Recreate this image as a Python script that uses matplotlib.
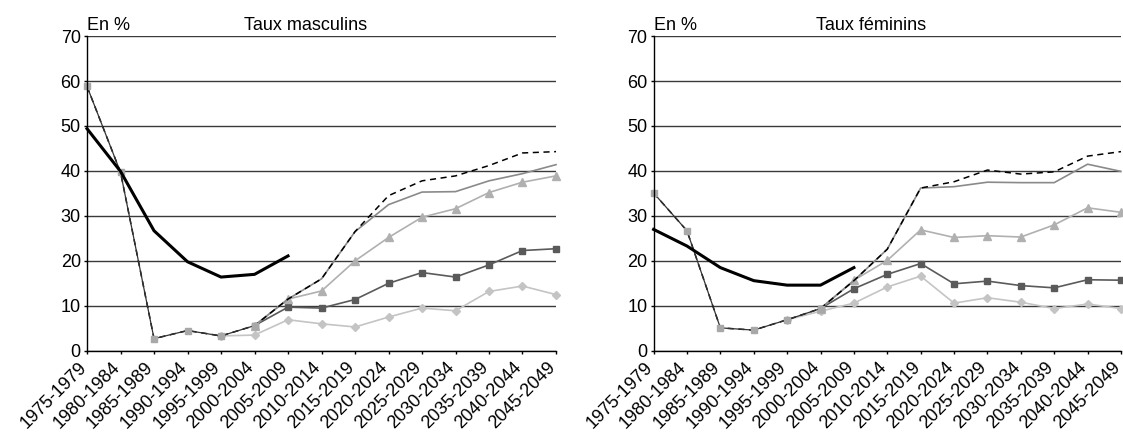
import numpy as np
import matplotlib
matplotlib.use("Agg")
import matplotlib.pyplot as plt
from matplotlib.transforms import ScaledTranslation

plt.rcParams["font.family"] = ["Liberation Sans", "DejaVu Sans"]

PERIODS = ["1975-1979", "1980-1984", "1985-1989", "1990-1994", "1995-1999",
           "2000-2004", "2005-2009", "2010-2014", "2015-2019", "2020-2024",
           "2025-2029", "2030-2034", "2035-2039", "2040-2044", "2045-2049"]

# ---- Taux masculins ----
M_OBS = [49.4, 39.9, 26.7, 19.8, 16.4, 17.0, 21.1]
M_HIST = [58.8, 39.7, 2.7, 4.5, 3.3, 5.6]
M_DASH = [58.8, 39.7, 2.7, 4.5, 3.3, 5.6, 11.5, 16.0, 26.5, 34.5, 37.8, 38.9, 41.2, 44.0, 44.3]
M_GRAY = [5.6, 11.5, 16.0, 26.5, 32.5, 35.3, 35.4, 37.8, 39.4, 41.4]      # from 2000
M_TRI = [5.6, 11.5, 13.3, 20.0, 25.2, 29.7, 31.6, 35.2, 37.5, 38.9]       # from 2000
M_SQ = [5.6, 9.7, 9.5, 11.4, 15.0, 17.4, 16.4, 19.1, 22.3, 22.7]          # from 2000
M_DIA = [3.3, 3.5, 6.9, 6.0, 5.3, 7.5, 9.5, 8.9, 13.2, 14.4, 12.5]        # from 1995

# ---- Taux féminins ----
F_OBS = [27.0, 23.3, 18.5, 15.6, 14.6, 14.6, 18.5]
F_HIST = [35.1, 26.7, 5.1, 4.6, 6.9, 9.4]
F_DASH = [35.1, 26.7, 5.1, 4.6, 6.9, 9.4, 15.6, 22.6, 36.2, 37.6, 40.2, 39.3, 39.8, 43.3, 44.3]
F_GRAY = [9.4, 15.6, 22.6, 36.2, 36.5, 37.5, 37.4, 37.4, 41.5, 39.9]
F_TRI = [9.4, 15.7, 20.1, 26.9, 25.2, 25.6, 25.3, 28.0, 31.8, 30.8]
F_SQ = [9.4, 13.8, 17.0, 19.4, 14.9, 15.5, 14.5, 14.0, 15.8, 15.7]
F_DIA = [6.9, 8.8, 10.6, 14.2, 16.6, 10.6, 11.8, 10.8, 9.4, 10.4, 9.4]

PANELS = [
    ("Taux masculins", M_OBS, M_HIST, M_DASH, M_GRAY, M_TRI, M_SQ, M_DIA),
    ("Taux féminins", F_OBS, F_HIST, F_DASH, F_GRAY, F_TRI, F_SQ, F_DIA),
]


def draw(ax, title, obs, hist, dash, gray, tri, sq, dia):
    x = np.arange(len(PERIODS))
    ax.set_xlim(0, len(PERIODS) - 1)
    ax.set_ylim(0, 70)
    ax.set_yticks(range(0, 71, 10))
    ax.yaxis.grid(True, color="#3a3a3a", lw=1.0)
    ax.set_axisbelow(True)
    for s in ("top", "right"):
        ax.spines[s].set_visible(False)
    for s in ("left", "bottom"):
        ax.spines[s].set_color("black")
        ax.spines[s].set_linewidth(1.0)

    n = len(PERIODS)
    ax.plot(x[n - len(dia):], dia, color="#c4c4c4", lw=1.2, marker="D", ms=4,
            mec="#c4c4c4", mfc="#c4c4c4", clip_on=False)
    ax.plot(x[n - len(sq):], sq, color="#5a5a5a", lw=1.2, marker="s", ms=4.6,
            mec="#5a5a5a", mfc="#5a5a5a", clip_on=False)
    ax.plot(x[n - len(tri):], tri, color="#b0b0b0", lw=1.2, marker="^", ms=5.5,
            mec="#b0b0b0", mfc="#b0b0b0", clip_on=False)
    ax.plot(x[n - len(gray):], gray, color="#8a8a8a", lw=1.2, clip_on=False)
    ax.plot(x, dash, color="black", lw=1.1, ls=(0, (4, 3)), clip_on=False)
    ax.plot(x[:len(hist)], hist, color="#333333", lw=0.9, marker="s", ms=5,
            mec="#a8a8a8", mfc="#a8a8a8", clip_on=False)
    ax.plot(x[:len(obs)], obs, color="black", lw=2.2, clip_on=False)

    ax.set_xticks(x)
    ax.set_xticklabels(PERIODS, rotation=45, ha="right", va="baseline",
                       rotation_mode="anchor", fontsize=13)
    shift = ScaledTranslation(-3.6 / 72, 0, ax.figure.dpi_scale_trans)
    for lab in ax.get_xticklabels():
        lab.set_transform(lab.get_transform() + shift)
    ax.tick_params(axis="x", direction="out", length=2.5, width=1, pad=10)
    ax.tick_params(axis="y", direction="out", length=2.5, width=1, labelsize=13, pad=2)
    ax.text(0.0, 1.019, "En %", transform=ax.transAxes, fontsize=13,
            ha="left", va="baseline")
    ax.text(0.465, 1.019, title, transform=ax.transAxes, fontsize=13,
            ha="center", va="baseline")


fig = plt.figure(figsize=(11.23, 4.32), dpi=100)
ax1 = fig.add_axes([0.0775, 0.188, 0.4176, 0.7285])
ax2 = fig.add_axes([0.582, 0.188, 0.4162, 0.7285])
for ax, panel in zip((ax1, ax2), PANELS):
    draw(ax, *panel)

fig.savefig("out.png", dpi=100)
